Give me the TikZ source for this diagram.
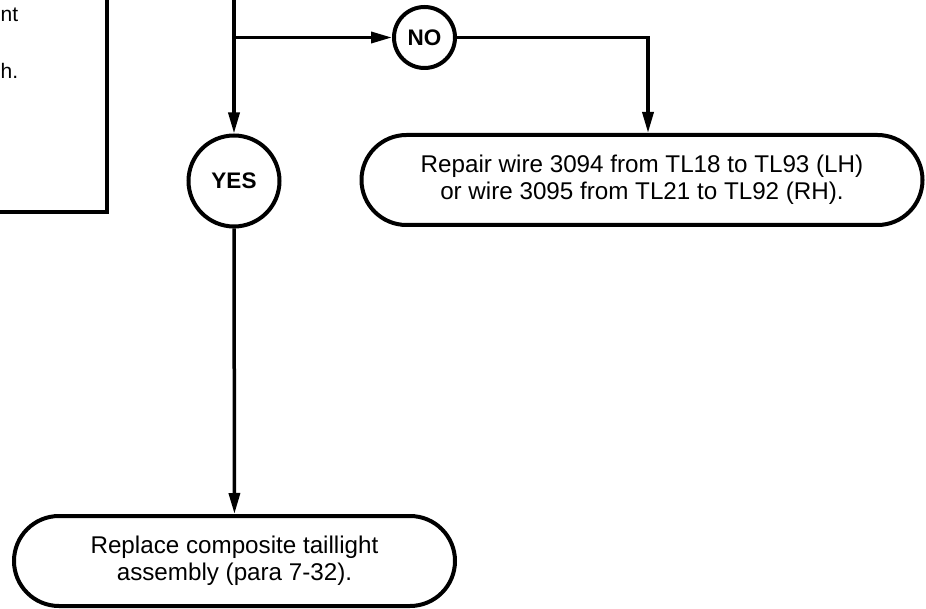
\documentclass[tikz,border=0pt]{standalone}
\usepackage{fontspec}
\setmainfont{Liberation Sans}
\usetikzlibrary{arrows.meta}
\tikzset{
  wire/.style={line width=3.5pt, -{Triangle[length=21pt,width=11pt]}},
  endbox/.style={draw, line width=4pt, rectangle, rounded corners=45pt, minimum height=90pt, align=center, font=\fontsize{24.2}{27}\selectfont, inner sep=0pt},
  answer/.style={draw, line width=4pt, circle, inner sep=0pt, font=\fontsize{22.5}{26}\selectfont\bfseries},
  frag/.style={font=\fontsize{21}{26}\selectfont, inner sep=0pt}
}
\begin{document}
\begin{tikzpicture}[x=1pt,y=-1pt]
\useasboundingbox (0,0) rectangle (926,609);
\clip (0,0) rectangle (926,609);
% partial box at top left
\coordinate (pbl) at (-10,212);
\coordinate (pbc) at (107,212);
\coordinate (pbt) at (107,-10);
\draw[line width=4pt] (pbl) -- (pbc) -- (pbt);
\node[frag, anchor=base west] (f1) at (0.5,22) {nt};
\node[frag, anchor=base west] (f2) at (0.5,79) {h.};
% nodes
\node[answer, minimum size=61pt] (no) at (424.5,37.5) {NO};
\node[answer, minimum size=91pt] (yes) at (234,181) {YES};
\node[endbox, minimum width=561pt] (repair) at (642,180) {Repair wire 3094 from TL18 to TL93 (LH)\\or wire 3095 from TL21 to TL92 (RH).};
\node[endbox, minimum width=441pt] (replace) at (234.5,561) {Replace composite taillight\\assembly (para 7-32).};
% connectors
\coordinate (top) at (234,-10);
\coordinate (br) at (234,37.5);
\coordinate (nocorner) at (648,37.5);
\draw[wire] (top) -- (yes);
\draw[wire] (br) -- (no);
\draw[wire] (no) -- (nocorner) -- (nocorner |- repair.north);
\draw[wire] (yes) -- (replace);
\end{tikzpicture}
\end{document}
